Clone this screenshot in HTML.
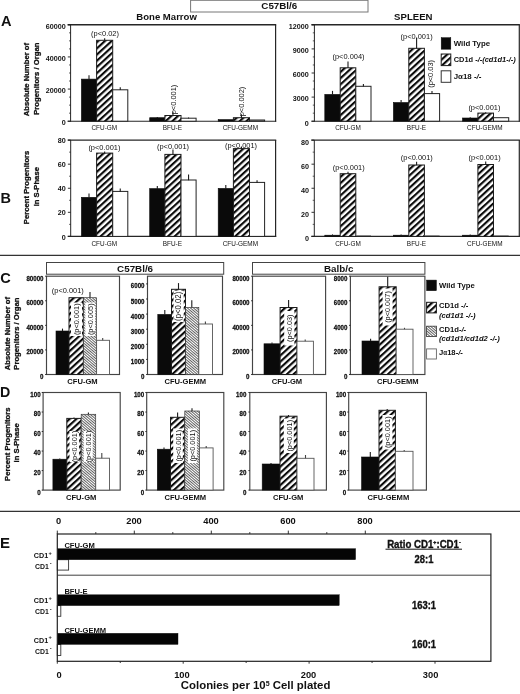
<!DOCTYPE html>
<html lang="en"><head><meta charset="utf-8"><title>Figure</title>
<style>html,body{margin:0;padding:0;background:#fff}svg{display:block}text{font-family:"Liberation Sans",Arial,Helvetica,sans-serif;fill:#111}</style></head><body>
<svg width="520" height="694" viewBox="0 0 520 694">
<defs>
<pattern id="hatch" patternUnits="userSpaceOnUse" width="10" height="4.55" patternTransform="rotate(-42.5)"><rect x="0" y="0" width="10" height="4.55" fill="#fff"/><rect x="0" y="0" width="10" height="2.15" fill="#0a0a0a"/></pattern>
<pattern id="fine" patternUnits="userSpaceOnUse" width="10" height="2" patternTransform="rotate(40.5)"><rect x="0" y="0" width="10" height="2" fill="#fff"/><rect x="0" y="0" width="10" height="0.72" fill="#262626"/></pattern>
</defs>
<rect x="0" y="0" width="520" height="694" fill="#fff"/>
<g style="filter:blur(0.45px)">
<rect x="190.6" y="0.3" width="177.4" height="11.7" fill="#fff" stroke="#777" stroke-width="1"/>
<text x="279.3" y="9.4" font-size="9.8" font-weight="bold" text-anchor="middle">C57Bl/6</text>
<text x="166.6" y="19.9" font-size="9.55" font-weight="bold" text-anchor="middle">Bone Marrow</text>
<text x="413.3" y="19.7" font-size="9.6" font-weight="bold" text-anchor="middle">SPLEEN</text>
<text x="1.1" y="25.7" font-size="14.6" font-weight="bold" text-anchor="start">A</text>
<text x="0.6" y="202.6" font-size="14.5" font-weight="bold" text-anchor="start">B</text>
<text x="0.2" y="282.7" font-size="14.6" font-weight="bold" text-anchor="start">C</text>
<text x="0.1" y="397" font-size="14.2" font-weight="bold" text-anchor="start">D</text>
<text x="0.1" y="547.9" font-size="15" font-weight="bold" text-anchor="start">E</text>
<text font-size="7.7" font-weight="bold" text-anchor="middle" transform="translate(29.4 79.6) rotate(-90)" stroke="#111" stroke-width="0.3">Absolute Number of</text>
<text font-size="7.7" font-weight="bold" text-anchor="middle" transform="translate(39.3 78.7) rotate(-90)" stroke="#111" stroke-width="0.3">Progenitors / Organ</text>
<text font-size="7.7" font-weight="bold" text-anchor="middle" transform="translate(29.3 187.4) rotate(-90)" stroke="#111" stroke-width="0.3">Percent Progenitors</text>
<text font-size="7.7" font-weight="bold" text-anchor="middle" transform="translate(38.9 186.7) rotate(-90)" stroke="#111" stroke-width="0.3">in S-Phase</text>
<text font-size="7.7" font-weight="bold" text-anchor="middle" transform="translate(9.5 333.6) rotate(-90)" stroke="#111" stroke-width="0.3">Absolute Number of</text>
<text font-size="7.7" font-weight="bold" text-anchor="middle" transform="translate(18.6 333.6) rotate(-90)" stroke="#111" stroke-width="0.3">Progenitors / Organ</text>
<text font-size="7.7" font-weight="bold" text-anchor="middle" transform="translate(9.5 444.2) rotate(-90)" stroke="#111" stroke-width="0.3">Percent Progenitors</text>
<text font-size="7.7" font-weight="bold" text-anchor="middle" transform="translate(18.6 442.8) rotate(-90)" stroke="#111" stroke-width="0.3">in S-Phase</text>
<text font-size="8.0" font-weight="normal" text-anchor="middle" transform="translate(176.2 99.5) rotate(-90) scale(0.93 1)">p&lt;0.001)</text>
<text font-size="8.0" font-weight="normal" text-anchor="middle" transform="translate(244 101.5) rotate(-90) scale(0.93 1)">p&lt;0.002)</text>
<line x1="67.6" y1="24.8" x2="276.2" y2="24.8" stroke="#262626" stroke-width="1.4"/>
<line x1="70.6" y1="24.8" x2="70.6" y2="121.7" stroke="#262626" stroke-width="1.0"/>
<line x1="275.6" y1="24.8" x2="275.6" y2="121.7" stroke="#262626" stroke-width="1.2"/>
<line x1="67.6" y1="121.2" x2="276.2" y2="121.2" stroke="#262626" stroke-width="1.1"/>
<line x1="67.8" y1="24.8" x2="70.6" y2="24.8" stroke="#1c1c1c" stroke-width="0.9"/>
<text x="65.8" y="28.8" font-size="7.2" font-weight="bold" text-anchor="end">60000</text>
<line x1="69" y1="32.83" x2="70.6" y2="32.83" stroke="#1c1c1c" stroke-width="0.7"/>
<line x1="69" y1="40.87" x2="70.6" y2="40.87" stroke="#1c1c1c" stroke-width="0.7"/>
<line x1="69" y1="48.9" x2="70.6" y2="48.9" stroke="#1c1c1c" stroke-width="0.7"/>
<line x1="67.8" y1="56.93" x2="70.6" y2="56.93" stroke="#1c1c1c" stroke-width="0.9"/>
<text x="65.8" y="60.93" font-size="7.2" font-weight="bold" text-anchor="end">40000</text>
<line x1="69" y1="64.97" x2="70.6" y2="64.97" stroke="#1c1c1c" stroke-width="0.7"/>
<line x1="69" y1="73" x2="70.6" y2="73" stroke="#1c1c1c" stroke-width="0.7"/>
<line x1="69" y1="81.03" x2="70.6" y2="81.03" stroke="#1c1c1c" stroke-width="0.7"/>
<line x1="67.8" y1="89.07" x2="70.6" y2="89.07" stroke="#1c1c1c" stroke-width="0.9"/>
<text x="65.8" y="93.07" font-size="7.2" font-weight="bold" text-anchor="end">20000</text>
<line x1="69" y1="97.1" x2="70.6" y2="97.1" stroke="#1c1c1c" stroke-width="0.7"/>
<line x1="69" y1="105.13" x2="70.6" y2="105.13" stroke="#1c1c1c" stroke-width="0.7"/>
<line x1="69" y1="113.17" x2="70.6" y2="113.17" stroke="#1c1c1c" stroke-width="0.7"/>
<line x1="67.8" y1="121.2" x2="70.6" y2="121.2" stroke="#1c1c1c" stroke-width="0.9"/>
<text x="65.8" y="125.2" font-size="7.2" font-weight="bold" text-anchor="end">0</text>
<rect x="81.4" y="79.1" width="15.2" height="42.1" fill="#0a0a0a" stroke="#0a0a0a" stroke-width="0.6"/>
<rect x="96.6" y="40.3" width="16.1" height="80.9" fill="url(#hatch)" stroke="#1c1c1c" stroke-width="1"/>
<rect x="112.7" y="89.8" width="15.1" height="31.4" fill="#fff" stroke="#222" stroke-width="1"/>
<line x1="89" y1="75.2" x2="89" y2="79.4" stroke="#1c1c1c" stroke-width="1.1"/>
<line x1="104.65" y1="38.2" x2="104.65" y2="40.6" stroke="#1c1c1c" stroke-width="1.1"/>
<line x1="120.25" y1="87.2" x2="120.25" y2="90.1" stroke="#1c1c1c" stroke-width="1.1"/>
<rect x="149.7" y="117.7" width="15.2" height="3.5" fill="#0a0a0a" stroke="#0a0a0a" stroke-width="0.6"/>
<rect x="164.9" y="115.5" width="16.1" height="5.7" fill="url(#hatch)" stroke="#1c1c1c" stroke-width="1"/>
<rect x="181" y="118.2" width="15.1" height="3" fill="#fff" stroke="#222" stroke-width="1"/>
<line x1="157.3" y1="117" x2="157.3" y2="118" stroke="#1c1c1c" stroke-width="1.1"/>
<line x1="172.95" y1="111.8" x2="172.95" y2="115.8" stroke="#1c1c1c" stroke-width="1.1"/>
<line x1="188.55" y1="117.4" x2="188.55" y2="118.5" stroke="#1c1c1c" stroke-width="1.1"/>
<rect x="218.2" y="119.6" width="15.2" height="1.6" fill="#0a0a0a" stroke="#0a0a0a" stroke-width="0.6"/>
<rect x="233.4" y="117.7" width="16.1" height="3.5" fill="url(#hatch)" stroke="#1c1c1c" stroke-width="1"/>
<rect x="249.5" y="120" width="15.1" height="1.2" fill="#fff" stroke="#222" stroke-width="1"/>
<line x1="241.45" y1="114.3" x2="241.45" y2="118" stroke="#1c1c1c" stroke-width="1.1"/>
<text font-size="8.0" font-weight="normal" text-anchor="middle" transform="translate(105 36) scale(0.93 1)">(p&lt;0.02)</text>
<text font-size="7.0" font-weight="normal" text-anchor="middle" transform="translate(104.3 130.3) scale(0.92 1)">CFU-GM</text>
<text font-size="7.0" font-weight="normal" text-anchor="middle" transform="translate(172.4 130.3) scale(0.92 1)">BFU-E</text>
<text font-size="7.0" font-weight="normal" text-anchor="middle" transform="translate(240.4 130.3) scale(0.92 1)">CFU-GEMM</text>
<line x1="311.4" y1="24.8" x2="519.9" y2="24.8" stroke="#262626" stroke-width="1.4"/>
<line x1="314.4" y1="24.8" x2="314.4" y2="121.7" stroke="#262626" stroke-width="1.0"/>
<line x1="519.3" y1="24.8" x2="519.3" y2="121.7" stroke="#262626" stroke-width="1.2"/>
<line x1="311.4" y1="121.2" x2="519.9" y2="121.2" stroke="#262626" stroke-width="1.1"/>
<line x1="311.6" y1="24.8" x2="314.4" y2="24.8" stroke="#1c1c1c" stroke-width="0.9"/>
<text x="308.8" y="29.1" font-size="7.2" font-weight="bold" text-anchor="end">12000</text>
<line x1="312.8" y1="32.83" x2="314.4" y2="32.83" stroke="#1c1c1c" stroke-width="0.7"/>
<line x1="312.8" y1="40.87" x2="314.4" y2="40.87" stroke="#1c1c1c" stroke-width="0.7"/>
<line x1="311.6" y1="48.9" x2="314.4" y2="48.9" stroke="#1c1c1c" stroke-width="0.9"/>
<text x="308.8" y="53.2" font-size="7.2" font-weight="bold" text-anchor="end">9000</text>
<line x1="312.8" y1="56.93" x2="314.4" y2="56.93" stroke="#1c1c1c" stroke-width="0.7"/>
<line x1="312.8" y1="64.97" x2="314.4" y2="64.97" stroke="#1c1c1c" stroke-width="0.7"/>
<line x1="311.6" y1="73" x2="314.4" y2="73" stroke="#1c1c1c" stroke-width="0.9"/>
<text x="308.8" y="77.3" font-size="7.2" font-weight="bold" text-anchor="end">6000</text>
<line x1="312.8" y1="81.03" x2="314.4" y2="81.03" stroke="#1c1c1c" stroke-width="0.7"/>
<line x1="312.8" y1="89.07" x2="314.4" y2="89.07" stroke="#1c1c1c" stroke-width="0.7"/>
<line x1="311.6" y1="97.1" x2="314.4" y2="97.1" stroke="#1c1c1c" stroke-width="0.9"/>
<text x="308.8" y="101.4" font-size="7.2" font-weight="bold" text-anchor="end">3000</text>
<line x1="312.8" y1="105.13" x2="314.4" y2="105.13" stroke="#1c1c1c" stroke-width="0.7"/>
<line x1="312.8" y1="113.17" x2="314.4" y2="113.17" stroke="#1c1c1c" stroke-width="0.7"/>
<line x1="311.6" y1="121.2" x2="314.4" y2="121.2" stroke="#1c1c1c" stroke-width="0.9"/>
<text x="308.8" y="125.5" font-size="7.2" font-weight="bold" text-anchor="end">0</text>
<rect x="324.8" y="94.4" width="15.4" height="26.8" fill="#0a0a0a" stroke="#0a0a0a" stroke-width="0.6"/>
<rect x="340.2" y="67.8" width="15.6" height="53.4" fill="url(#hatch)" stroke="#1c1c1c" stroke-width="1"/>
<rect x="355.8" y="86.3" width="15.2" height="34.9" fill="#fff" stroke="#222" stroke-width="1"/>
<line x1="332.5" y1="90.9" x2="332.5" y2="94.7" stroke="#1c1c1c" stroke-width="1.1"/>
<line x1="348" y1="61.4" x2="348" y2="68.1" stroke="#1c1c1c" stroke-width="1.1"/>
<line x1="363.4" y1="84" x2="363.4" y2="86.6" stroke="#1c1c1c" stroke-width="1.1"/>
<rect x="393.4" y="102.5" width="15.4" height="18.7" fill="#0a0a0a" stroke="#0a0a0a" stroke-width="0.6"/>
<rect x="408.8" y="48.3" width="15.6" height="72.9" fill="url(#hatch)" stroke="#1c1c1c" stroke-width="1"/>
<rect x="424.4" y="93.6" width="15.2" height="27.6" fill="#fff" stroke="#222" stroke-width="1"/>
<line x1="401.1" y1="100" x2="401.1" y2="102.8" stroke="#1c1c1c" stroke-width="1.1"/>
<line x1="416.6" y1="37.6" x2="416.6" y2="48.6" stroke="#1c1c1c" stroke-width="1.1"/>
<line x1="432" y1="91" x2="432" y2="93.9" stroke="#1c1c1c" stroke-width="1.1"/>
<rect x="462.5" y="118" width="15.4" height="3.2" fill="#0a0a0a" stroke="#0a0a0a" stroke-width="0.6"/>
<rect x="477.9" y="113.1" width="15.6" height="8.1" fill="url(#hatch)" stroke="#1c1c1c" stroke-width="1"/>
<rect x="493.5" y="117.7" width="15.2" height="3.5" fill="#fff" stroke="#222" stroke-width="1"/>
<line x1="470.2" y1="117.2" x2="470.2" y2="118.3" stroke="#1c1c1c" stroke-width="1.1"/>
<line x1="485.7" y1="112.2" x2="485.7" y2="113.4" stroke="#1c1c1c" stroke-width="1.1"/>
<text font-size="8.0" font-weight="normal" text-anchor="middle" transform="translate(348.5 58.6) scale(0.93 1)">(p&lt;0.004)</text>
<text font-size="8.0" font-weight="normal" text-anchor="middle" transform="translate(416.6 39) scale(0.93 1)">(p&lt;0.001)</text>
<text font-size="8.0" font-weight="normal" text-anchor="middle" transform="translate(432.7 73.9) rotate(-90) scale(0.93 1)">(p&lt;0.03)</text>
<text font-size="8.0" font-weight="normal" text-anchor="middle" transform="translate(484.4 110.4) scale(0.93 1)">(p&lt;0.001)</text>
<text font-size="7.0" font-weight="normal" text-anchor="middle" transform="translate(348 130.3) scale(0.92 1)">CFU-GM</text>
<text font-size="7.0" font-weight="normal" text-anchor="middle" transform="translate(416.5 130.3) scale(0.92 1)">BFU-E</text>
<text font-size="7.0" font-weight="normal" text-anchor="middle" transform="translate(484.8 130.3) scale(0.92 1)">CFU-GEMM</text>
<rect x="441.2" y="37.7" width="9.6" height="11.5" fill="#0a0a0a" stroke="#0a0a0a" stroke-width="0.5"/>
<rect x="441.2" y="54" width="9.6" height="11.6" fill="url(#hatch)" stroke="#1c1c1c" stroke-width="1"/>
<rect x="441.2" y="70.8" width="9.6" height="11.5" fill="#fff" stroke="#333" stroke-width="1"/>
<text x="453.7" y="45.6" font-size="7.85" font-weight="bold" text-anchor="start">Wild Type</text>
<text x="453.7" y="61.9" font-size="7.45" font-weight="bold" text-anchor="start">CD1d <tspan font-style="italic">-/-(cd1d1-/-)</tspan></text>
<text x="453.7" y="78.6" font-size="7.9" font-weight="bold" text-anchor="start">Jα18 <tspan font-style="italic">-/-</tspan></text>
<line x1="67.7" y1="140.1" x2="276.2" y2="140.1" stroke="#262626" stroke-width="1.4"/>
<line x1="70.7" y1="140.1" x2="70.7" y2="236.9" stroke="#262626" stroke-width="1.0"/>
<line x1="275.6" y1="140.1" x2="275.6" y2="236.9" stroke="#262626" stroke-width="1.2"/>
<line x1="67.7" y1="236.4" x2="276.2" y2="236.4" stroke="#262626" stroke-width="1.1"/>
<line x1="67.9" y1="140.1" x2="70.7" y2="140.1" stroke="#1c1c1c" stroke-width="0.9"/>
<text x="65.8" y="143.2" font-size="7.2" font-weight="bold" text-anchor="end">80</text>
<line x1="69.1" y1="152.14" x2="70.7" y2="152.14" stroke="#1c1c1c" stroke-width="0.7"/>
<line x1="67.9" y1="164.18" x2="70.7" y2="164.18" stroke="#1c1c1c" stroke-width="0.9"/>
<text x="65.8" y="167.28" font-size="7.2" font-weight="bold" text-anchor="end">60</text>
<line x1="69.1" y1="176.21" x2="70.7" y2="176.21" stroke="#1c1c1c" stroke-width="0.7"/>
<line x1="67.9" y1="188.25" x2="70.7" y2="188.25" stroke="#1c1c1c" stroke-width="0.9"/>
<text x="65.8" y="191.35" font-size="7.2" font-weight="bold" text-anchor="end">40</text>
<line x1="69.1" y1="200.29" x2="70.7" y2="200.29" stroke="#1c1c1c" stroke-width="0.7"/>
<line x1="67.9" y1="212.32" x2="70.7" y2="212.32" stroke="#1c1c1c" stroke-width="0.9"/>
<text x="65.8" y="215.42" font-size="7.2" font-weight="bold" text-anchor="end">20</text>
<line x1="69.1" y1="224.36" x2="70.7" y2="224.36" stroke="#1c1c1c" stroke-width="0.7"/>
<line x1="67.9" y1="236.4" x2="70.7" y2="236.4" stroke="#1c1c1c" stroke-width="0.9"/>
<text x="65.8" y="239.5" font-size="7.2" font-weight="bold" text-anchor="end">0</text>
<rect x="81.4" y="197.3" width="15.2" height="39.1" fill="#0a0a0a" stroke="#0a0a0a" stroke-width="0.6"/>
<rect x="96.6" y="153.1" width="16.1" height="83.3" fill="url(#hatch)" stroke="#1c1c1c" stroke-width="1"/>
<rect x="112.7" y="191.4" width="15.1" height="45" fill="#fff" stroke="#222" stroke-width="1"/>
<line x1="89" y1="193.6" x2="89" y2="197.6" stroke="#1c1c1c" stroke-width="1.1"/>
<line x1="104.65" y1="151.6" x2="104.65" y2="153.4" stroke="#1c1c1c" stroke-width="1.1"/>
<line x1="120.25" y1="188.4" x2="120.25" y2="191.7" stroke="#1c1c1c" stroke-width="1.1"/>
<rect x="149.7" y="188.6" width="15.2" height="47.8" fill="#0a0a0a" stroke="#0a0a0a" stroke-width="0.6"/>
<rect x="164.9" y="154.4" width="16.1" height="82" fill="url(#hatch)" stroke="#1c1c1c" stroke-width="1"/>
<rect x="181" y="180" width="15.1" height="56.4" fill="#fff" stroke="#222" stroke-width="1"/>
<line x1="157.3" y1="185.9" x2="157.3" y2="188.9" stroke="#1c1c1c" stroke-width="1.1"/>
<line x1="172.95" y1="149.4" x2="172.95" y2="154.7" stroke="#1c1c1c" stroke-width="1.1"/>
<line x1="188.55" y1="174.6" x2="188.55" y2="180.3" stroke="#1c1c1c" stroke-width="1.1"/>
<rect x="218.2" y="188.4" width="15.2" height="48" fill="#0a0a0a" stroke="#0a0a0a" stroke-width="0.6"/>
<rect x="233.4" y="148.6" width="16.1" height="87.8" fill="url(#hatch)" stroke="#1c1c1c" stroke-width="1"/>
<rect x="249.5" y="182.4" width="15.1" height="54" fill="#fff" stroke="#222" stroke-width="1"/>
<line x1="225.8" y1="185" x2="225.8" y2="188.7" stroke="#1c1c1c" stroke-width="1.1"/>
<line x1="241.45" y1="146.6" x2="241.45" y2="148.9" stroke="#1c1c1c" stroke-width="1.1"/>
<line x1="257.05" y1="180.2" x2="257.05" y2="182.7" stroke="#1c1c1c" stroke-width="1.1"/>
<text font-size="8.0" font-weight="normal" text-anchor="middle" transform="translate(104.4 149.5) scale(0.93 1)">(p&lt;0.001)</text>
<text font-size="8.0" font-weight="normal" text-anchor="middle" transform="translate(173 149.1) scale(0.93 1)">(p&lt;0.001)</text>
<text font-size="8.0" font-weight="normal" text-anchor="middle" transform="translate(241 147.9) scale(0.93 1)">(p&lt;0.001)</text>
<text font-size="7.0" font-weight="normal" text-anchor="middle" transform="translate(104.3 246) scale(0.92 1)">CFU-GM</text>
<text font-size="7.0" font-weight="normal" text-anchor="middle" transform="translate(172.4 246) scale(0.92 1)">BFU-E</text>
<text font-size="7.0" font-weight="normal" text-anchor="middle" transform="translate(240.4 246) scale(0.92 1)">CFU-GEMM</text>
<line x1="311.3" y1="140.1" x2="519.9" y2="140.1" stroke="#262626" stroke-width="1.4"/>
<line x1="314.3" y1="140.1" x2="314.3" y2="236.9" stroke="#262626" stroke-width="1.0"/>
<line x1="519.3" y1="140.1" x2="519.3" y2="236.9" stroke="#262626" stroke-width="1.2"/>
<line x1="311.3" y1="236.4" x2="519.9" y2="236.4" stroke="#262626" stroke-width="1.1"/>
<line x1="311.5" y1="140.1" x2="314.3" y2="140.1" stroke="#1c1c1c" stroke-width="0.9"/>
<text x="309.1" y="144.7" font-size="7.2" font-weight="bold" text-anchor="end">80</text>
<line x1="312.7" y1="152.14" x2="314.3" y2="152.14" stroke="#1c1c1c" stroke-width="0.7"/>
<line x1="311.5" y1="164.18" x2="314.3" y2="164.18" stroke="#1c1c1c" stroke-width="0.9"/>
<text x="309.1" y="168.78" font-size="7.2" font-weight="bold" text-anchor="end">60</text>
<line x1="312.7" y1="176.21" x2="314.3" y2="176.21" stroke="#1c1c1c" stroke-width="0.7"/>
<line x1="311.5" y1="188.25" x2="314.3" y2="188.25" stroke="#1c1c1c" stroke-width="0.9"/>
<text x="309.1" y="192.85" font-size="7.2" font-weight="bold" text-anchor="end">40</text>
<line x1="312.7" y1="200.29" x2="314.3" y2="200.29" stroke="#1c1c1c" stroke-width="0.7"/>
<line x1="311.5" y1="212.32" x2="314.3" y2="212.32" stroke="#1c1c1c" stroke-width="0.9"/>
<text x="309.1" y="216.92" font-size="7.2" font-weight="bold" text-anchor="end">20</text>
<line x1="312.7" y1="224.36" x2="314.3" y2="224.36" stroke="#1c1c1c" stroke-width="0.7"/>
<line x1="311.5" y1="236.4" x2="314.3" y2="236.4" stroke="#1c1c1c" stroke-width="0.9"/>
<text x="309.1" y="241" font-size="7.2" font-weight="bold" text-anchor="end">0</text>
<rect x="324.8" y="235.2" width="15.4" height="1.2" fill="#0a0a0a" stroke="#0a0a0a" stroke-width="0.6"/>
<rect x="340.2" y="173.7" width="15.6" height="62.7" fill="url(#hatch)" stroke="#1c1c1c" stroke-width="1"/>
<line x1="355.8" y1="235.5" x2="371" y2="235.5" stroke="#777" stroke-width="0.8"/>
<line x1="348" y1="171.8" x2="348" y2="174" stroke="#1c1c1c" stroke-width="1.1"/>
<line x1="332.5" y1="234.4" x2="332.5" y2="235.4" stroke="#1c1c1c" stroke-width="1.1"/>
<rect x="393.4" y="235.2" width="15.4" height="1.2" fill="#0a0a0a" stroke="#0a0a0a" stroke-width="0.6"/>
<rect x="408.8" y="165" width="15.6" height="71.4" fill="url(#hatch)" stroke="#1c1c1c" stroke-width="1"/>
<line x1="424.4" y1="235.5" x2="439.6" y2="235.5" stroke="#777" stroke-width="0.8"/>
<line x1="416.6" y1="161.7" x2="416.6" y2="165.3" stroke="#1c1c1c" stroke-width="1.1"/>
<line x1="401.1" y1="234.4" x2="401.1" y2="235.4" stroke="#1c1c1c" stroke-width="1.1"/>
<rect x="462.5" y="235.2" width="15.4" height="1.2" fill="#0a0a0a" stroke="#0a0a0a" stroke-width="0.6"/>
<rect x="477.9" y="164.5" width="15.6" height="71.9" fill="url(#hatch)" stroke="#1c1c1c" stroke-width="1"/>
<line x1="493.5" y1="235.5" x2="508.7" y2="235.5" stroke="#777" stroke-width="0.8"/>
<line x1="485.7" y1="161.4" x2="485.7" y2="164.8" stroke="#1c1c1c" stroke-width="1.1"/>
<line x1="470.2" y1="234.4" x2="470.2" y2="235.4" stroke="#1c1c1c" stroke-width="1.1"/>
<text font-size="8.0" font-weight="normal" text-anchor="middle" transform="translate(348.7 169.8) scale(0.93 1)">(p&lt;0.001)</text>
<text font-size="8.0" font-weight="normal" text-anchor="middle" transform="translate(416.8 159.5) scale(0.93 1)">(p&lt;0.001)</text>
<text font-size="8.0" font-weight="normal" text-anchor="middle" transform="translate(484.6 159.5) scale(0.93 1)">(p&lt;0.001)</text>
<text font-size="7.0" font-weight="normal" text-anchor="middle" transform="translate(348 246) scale(0.92 1)">CFU-GM</text>
<text font-size="7.0" font-weight="normal" text-anchor="middle" transform="translate(416.5 246) scale(0.92 1)">BFU-E</text>
<text font-size="7.0" font-weight="normal" text-anchor="middle" transform="translate(484.8 246) scale(0.92 1)">CFU-GEMM</text>
<line x1="0" y1="255.3" x2="520" y2="255.3" stroke="#333" stroke-width="1.2"/>
<line x1="0" y1="511.4" x2="520" y2="511.4" stroke="#333" stroke-width="1.2"/>
<rect x="46.5" y="262.5" width="177.2" height="11.7" fill="#fff" stroke="#444" stroke-width="1"/>
<text x="135.1" y="271.8" font-size="9.8" font-weight="bold" text-anchor="middle">C57Bl/6</text>
<rect x="252.5" y="262.5" width="172.4" height="11.7" fill="#fff" stroke="#444" stroke-width="1"/>
<text x="338.7" y="271.8" font-size="9.8" font-weight="bold" text-anchor="middle">Balb/c</text>
<text font-size="8.0" font-weight="normal" text-anchor="middle" transform="translate(67.8 293.1) scale(0.93 1)">(p&lt;0.001)</text>
<rect x="46.5" y="276.2" width="73" height="98.3" fill="none" stroke="#444" stroke-width="1.15"/>
<line x1="45.1" y1="276.2" x2="46.5" y2="276.2" stroke="#1c1c1c" stroke-width="0.9"/>
<text font-size="7.5" font-weight="bold" text-anchor="end" transform="translate(43.5 280.7) scale(0.82 1)" stroke="#111" stroke-width="0.3">80000</text>
<line x1="45.1" y1="300.77" x2="46.5" y2="300.77" stroke="#1c1c1c" stroke-width="0.9"/>
<text font-size="7.5" font-weight="bold" text-anchor="end" transform="translate(43.5 305.27) scale(0.82 1)" stroke="#111" stroke-width="0.3">60000</text>
<line x1="45.1" y1="325.35" x2="46.5" y2="325.35" stroke="#1c1c1c" stroke-width="0.9"/>
<text font-size="7.5" font-weight="bold" text-anchor="end" transform="translate(43.5 329.85) scale(0.82 1)" stroke="#111" stroke-width="0.3">40000</text>
<line x1="45.1" y1="349.93" x2="46.5" y2="349.93" stroke="#1c1c1c" stroke-width="0.9"/>
<text font-size="7.5" font-weight="bold" text-anchor="end" transform="translate(43.5 354.43) scale(0.82 1)" stroke="#111" stroke-width="0.3">20000</text>
<line x1="45.1" y1="374.5" x2="46.5" y2="374.5" stroke="#1c1c1c" stroke-width="0.9"/>
<text font-size="7.5" font-weight="bold" text-anchor="end" transform="translate(43.5 379) scale(0.82 1)" stroke="#111" stroke-width="0.3">0</text>
<rect x="56" y="331" width="13" height="43.5" fill="#0a0a0a" stroke="#0a0a0a" stroke-width="0.6"/>
<rect x="69" y="297.7" width="14.4" height="76.8" fill="url(#hatch)" stroke="#1c1c1c" stroke-width="1"/>
<rect x="83.4" y="297.7" width="13.2" height="76.8" fill="url(#fine)" stroke="#3a3a3a" stroke-width="0.7"/>
<rect x="96.6" y="340.3" width="12.9" height="34.2" fill="#fff" stroke="#555" stroke-width="0.9"/>
<line x1="62.5" y1="328.6" x2="62.5" y2="331" stroke="#1c1c1c" stroke-width="1.1"/>
<line x1="90" y1="291.9" x2="90" y2="297.7" stroke="#1c1c1c" stroke-width="1.1"/>
<line x1="102.7" y1="338" x2="102.7" y2="340.3" stroke="#444" stroke-width="1.1"/>
<rect x="71" y="302.5" width="11" height="33.5" fill="#fff" stroke="none" stroke-width="0"/>
<text font-size="8.0" font-weight="normal" text-anchor="middle" transform="translate(79.2 319.25) rotate(-90) scale(0.92 1)">(p&lt;0.001)</text>
<rect x="85.3" y="302.5" width="9.8" height="33.5" fill="#fff" stroke="none" stroke-width="0"/>
<text font-size="8.0" font-weight="normal" text-anchor="middle" transform="translate(92.9 319.25) rotate(-90) scale(0.92 1)">(p&lt;0.005)</text>
<text x="82.5" y="383.8" font-size="7.6" font-weight="bold" text-anchor="middle">CFU-GM</text>
<rect x="147.5" y="276.2" width="75" height="98.3" fill="none" stroke="#444" stroke-width="1.15"/>
<line x1="146.1" y1="283.9" x2="147.5" y2="283.9" stroke="#1c1c1c" stroke-width="0.9"/>
<text font-size="7.5" font-weight="bold" text-anchor="end" transform="translate(144.5 288.4) scale(0.82 1)" stroke="#111" stroke-width="0.3">6000</text>
<line x1="146.1" y1="299" x2="147.5" y2="299" stroke="#1c1c1c" stroke-width="0.9"/>
<text font-size="7.5" font-weight="bold" text-anchor="end" transform="translate(144.5 303.5) scale(0.82 1)" stroke="#111" stroke-width="0.3">5000</text>
<line x1="146.1" y1="314.1" x2="147.5" y2="314.1" stroke="#1c1c1c" stroke-width="0.9"/>
<text font-size="7.5" font-weight="bold" text-anchor="end" transform="translate(144.5 318.6) scale(0.82 1)" stroke="#111" stroke-width="0.3">4000</text>
<line x1="146.1" y1="329.2" x2="147.5" y2="329.2" stroke="#1c1c1c" stroke-width="0.9"/>
<text font-size="7.5" font-weight="bold" text-anchor="end" transform="translate(144.5 333.7) scale(0.82 1)" stroke="#111" stroke-width="0.3">3000</text>
<line x1="146.1" y1="344.3" x2="147.5" y2="344.3" stroke="#1c1c1c" stroke-width="0.9"/>
<text font-size="7.5" font-weight="bold" text-anchor="end" transform="translate(144.5 348.8) scale(0.82 1)" stroke="#111" stroke-width="0.3">2000</text>
<line x1="146.1" y1="359.4" x2="147.5" y2="359.4" stroke="#1c1c1c" stroke-width="0.9"/>
<text font-size="7.5" font-weight="bold" text-anchor="end" transform="translate(144.5 363.9) scale(0.82 1)" stroke="#111" stroke-width="0.3">1000</text>
<line x1="146.1" y1="374.5" x2="147.5" y2="374.5" stroke="#1c1c1c" stroke-width="0.9"/>
<text font-size="7.5" font-weight="bold" text-anchor="end" transform="translate(144.5 379) scale(0.82 1)" stroke="#111" stroke-width="0.3">0</text>
<rect x="157.8" y="314.4" width="13.7" height="60.1" fill="#0a0a0a" stroke="#0a0a0a" stroke-width="0.6"/>
<rect x="171.5" y="289.3" width="14" height="85.2" fill="url(#hatch)" stroke="#1c1c1c" stroke-width="1"/>
<rect x="185.5" y="307.5" width="13.3" height="67" fill="url(#fine)" stroke="#3a3a3a" stroke-width="0.7"/>
<rect x="198.8" y="324" width="13.7" height="50.5" fill="#fff" stroke="#555" stroke-width="0.9"/>
<line x1="164.8" y1="310" x2="164.8" y2="314.4" stroke="#1c1c1c" stroke-width="1.1"/>
<line x1="178.5" y1="283.1" x2="178.5" y2="289.3" stroke="#1c1c1c" stroke-width="1.1"/>
<line x1="191.8" y1="300.3" x2="191.8" y2="307.5" stroke="#1c1c1c" stroke-width="1.1"/>
<line x1="205.4" y1="321.5" x2="205.4" y2="324" stroke="#444" stroke-width="1.1"/>
<rect x="173.5" y="290.6" width="10.2" height="31.4" fill="#fff" stroke="none" stroke-width="0"/>
<text font-size="8.2" font-weight="normal" text-anchor="middle" transform="translate(181.3 306.3) rotate(-90) scale(0.95 1)">(p&lt;0.02)</text>
<text x="185.3" y="383.8" font-size="7.6" font-weight="bold" text-anchor="middle">CFU-GEMM</text>
<rect x="252.5" y="276.2" width="73.1" height="98.3" fill="none" stroke="#444" stroke-width="1.15"/>
<line x1="251.1" y1="276.2" x2="252.5" y2="276.2" stroke="#1c1c1c" stroke-width="0.9"/>
<text font-size="7.5" font-weight="bold" text-anchor="end" transform="translate(249.5 280.7) scale(0.82 1)" stroke="#111" stroke-width="0.3">80000</text>
<line x1="251.1" y1="300.77" x2="252.5" y2="300.77" stroke="#1c1c1c" stroke-width="0.9"/>
<text font-size="7.5" font-weight="bold" text-anchor="end" transform="translate(249.5 305.27) scale(0.82 1)" stroke="#111" stroke-width="0.3">60000</text>
<line x1="251.1" y1="325.35" x2="252.5" y2="325.35" stroke="#1c1c1c" stroke-width="0.9"/>
<text font-size="7.5" font-weight="bold" text-anchor="end" transform="translate(249.5 329.85) scale(0.82 1)" stroke="#111" stroke-width="0.3">40000</text>
<line x1="251.1" y1="349.93" x2="252.5" y2="349.93" stroke="#1c1c1c" stroke-width="0.9"/>
<text font-size="7.5" font-weight="bold" text-anchor="end" transform="translate(249.5 354.43) scale(0.82 1)" stroke="#111" stroke-width="0.3">20000</text>
<line x1="251.1" y1="374.5" x2="252.5" y2="374.5" stroke="#1c1c1c" stroke-width="0.9"/>
<text font-size="7.5" font-weight="bold" text-anchor="end" transform="translate(249.5 379) scale(0.82 1)" stroke="#111" stroke-width="0.3">0</text>
<rect x="264" y="343.8" width="16.1" height="30.7" fill="#0a0a0a" stroke="#0a0a0a" stroke-width="0.6"/>
<rect x="280.1" y="307.5" width="16.9" height="67" fill="url(#hatch)" stroke="#1c1c1c" stroke-width="1"/>
<rect x="297" y="341.2" width="16.4" height="33.3" fill="#fff" stroke="#555" stroke-width="0.9"/>
<line x1="272" y1="342.6" x2="272" y2="343.8" stroke="#1c1c1c" stroke-width="1.1"/>
<line x1="288.6" y1="300" x2="288.6" y2="307.5" stroke="#1c1c1c" stroke-width="1.1"/>
<line x1="305.2" y1="339.6" x2="305.2" y2="341.2" stroke="#444" stroke-width="1.1"/>
<rect x="284.2" y="311" width="10.2" height="34.5" fill="#fff" stroke="none" stroke-width="0"/>
<text font-size="8.0" font-weight="normal" text-anchor="middle" transform="translate(292 328.25) rotate(-90) scale(0.92 1)">(p&lt;0.03)</text>
<text x="287" y="383.8" font-size="7.6" font-weight="bold" text-anchor="middle">CFU-GM</text>
<rect x="350.4" y="276.2" width="74.5" height="98.3" fill="none" stroke="#444" stroke-width="1.15"/>
<line x1="349" y1="276.2" x2="350.4" y2="276.2" stroke="#1c1c1c" stroke-width="0.9"/>
<text font-size="7.5" font-weight="bold" text-anchor="end" transform="translate(347.4 280.7) scale(0.82 1)" stroke="#111" stroke-width="0.3">8000</text>
<line x1="349" y1="300.77" x2="350.4" y2="300.77" stroke="#1c1c1c" stroke-width="0.9"/>
<text font-size="7.5" font-weight="bold" text-anchor="end" transform="translate(347.4 305.27) scale(0.82 1)" stroke="#111" stroke-width="0.3">6000</text>
<line x1="349" y1="325.35" x2="350.4" y2="325.35" stroke="#1c1c1c" stroke-width="0.9"/>
<text font-size="7.5" font-weight="bold" text-anchor="end" transform="translate(347.4 329.85) scale(0.82 1)" stroke="#111" stroke-width="0.3">4000</text>
<line x1="349" y1="349.93" x2="350.4" y2="349.93" stroke="#1c1c1c" stroke-width="0.9"/>
<text font-size="7.5" font-weight="bold" text-anchor="end" transform="translate(347.4 354.43) scale(0.82 1)" stroke="#111" stroke-width="0.3">2000</text>
<line x1="349" y1="374.5" x2="350.4" y2="374.5" stroke="#1c1c1c" stroke-width="0.9"/>
<text font-size="7.5" font-weight="bold" text-anchor="end" transform="translate(347.4 379) scale(0.82 1)" stroke="#111" stroke-width="0.3">0</text>
<rect x="362" y="341" width="17.1" height="33.5" fill="#0a0a0a" stroke="#0a0a0a" stroke-width="0.6"/>
<rect x="379.1" y="286.8" width="17.1" height="87.7" fill="url(#hatch)" stroke="#1c1c1c" stroke-width="1"/>
<rect x="396.2" y="329.2" width="16.8" height="45.3" fill="#fff" stroke="#555" stroke-width="0.9"/>
<line x1="370.6" y1="338.8" x2="370.6" y2="341" stroke="#1c1c1c" stroke-width="1.1"/>
<line x1="387.7" y1="276.8" x2="387.7" y2="286.8" stroke="#1c1c1c" stroke-width="1.1"/>
<line x1="404.5" y1="327.8" x2="404.5" y2="329.2" stroke="#444" stroke-width="1.1"/>
<rect x="382.6" y="288.5" width="10" height="37" fill="#fff" stroke="none" stroke-width="0"/>
<text font-size="8.0" font-weight="normal" text-anchor="middle" transform="translate(390.3 307) rotate(-90) scale(0.92 1)">(p&lt;0.007)</text>
<text x="397.8" y="383.8" font-size="7.6" font-weight="bold" text-anchor="middle">CFU-GEMM</text>
<rect x="426.6" y="280.1" width="9.8" height="10.6" fill="#0a0a0a" stroke="#0a0a0a" stroke-width="0.5"/>
<rect x="426.6" y="302.3" width="9.8" height="10.6" fill="url(#hatch)" stroke="#1c1c1c" stroke-width="1"/>
<rect x="426.6" y="326.2" width="9.8" height="10.4" fill="url(#fine)" stroke="#333" stroke-width="0.8"/>
<rect x="426.6" y="348.9" width="9.8" height="10.1" fill="#fff" stroke="#666" stroke-width="0.9"/>
<text x="439" y="288" font-size="7.7" font-weight="bold" text-anchor="start">Wild Type</text>
<text x="439" y="308.3" font-size="7.65" font-weight="bold" text-anchor="start">CD1d <tspan font-style="italic">-/-</tspan></text>
<text x="439" y="317.7" font-size="7.65" font-weight="bold" font-style="italic" text-anchor="start">(cd1d1 -/-)</text>
<text x="439" y="331.6" font-size="7.65" font-weight="bold" text-anchor="start">CD1d<tspan font-style="italic">-/-</tspan></text>
<text x="439" y="341.2" font-size="7.65" font-weight="bold" font-style="italic" text-anchor="start">(cd1d1/cd1d2 -/-)</text>
<text x="439" y="355.4" font-size="7.65" font-weight="bold" text-anchor="start">J<tspan font-size="6.3">α</tspan>18<tspan font-style="italic">-/-</tspan></text>
<rect x="43.1" y="392.5" width="77.1" height="97.6" fill="none" stroke="#444" stroke-width="1.15"/>
<line x1="41.7" y1="392.5" x2="43.1" y2="392.5" stroke="#1c1c1c" stroke-width="0.9"/>
<text font-size="7.5" font-weight="bold" text-anchor="end" transform="translate(40.6 396.9) scale(0.82 1)" stroke="#111" stroke-width="0.3">100</text>
<line x1="41.7" y1="412.02" x2="43.1" y2="412.02" stroke="#1c1c1c" stroke-width="0.9"/>
<text font-size="7.5" font-weight="bold" text-anchor="end" transform="translate(40.6 416.42) scale(0.82 1)" stroke="#111" stroke-width="0.3">80</text>
<line x1="41.7" y1="431.54" x2="43.1" y2="431.54" stroke="#1c1c1c" stroke-width="0.9"/>
<text font-size="7.5" font-weight="bold" text-anchor="end" transform="translate(40.6 435.94) scale(0.82 1)" stroke="#111" stroke-width="0.3">60</text>
<line x1="41.7" y1="451.06" x2="43.1" y2="451.06" stroke="#1c1c1c" stroke-width="0.9"/>
<text font-size="7.5" font-weight="bold" text-anchor="end" transform="translate(40.6 455.46) scale(0.82 1)" stroke="#111" stroke-width="0.3">40</text>
<line x1="41.7" y1="470.58" x2="43.1" y2="470.58" stroke="#1c1c1c" stroke-width="0.9"/>
<text font-size="7.5" font-weight="bold" text-anchor="end" transform="translate(40.6 474.98) scale(0.82 1)" stroke="#111" stroke-width="0.3">20</text>
<line x1="41.7" y1="490.1" x2="43.1" y2="490.1" stroke="#1c1c1c" stroke-width="0.9"/>
<text font-size="7.5" font-weight="bold" text-anchor="end" transform="translate(40.6 494.5) scale(0.82 1)" stroke="#111" stroke-width="0.3">0</text>
<rect x="52.9" y="459.2" width="13.9" height="30.9" fill="#0a0a0a" stroke="#0a0a0a" stroke-width="0.6"/>
<rect x="66.8" y="418.4" width="14.4" height="71.7" fill="url(#hatch)" stroke="#1c1c1c" stroke-width="1"/>
<rect x="81.2" y="414.3" width="14.5" height="75.8" fill="url(#fine)" stroke="#3a3a3a" stroke-width="0.7"/>
<rect x="95.7" y="458.2" width="13.8" height="31.9" fill="#fff" stroke="#555" stroke-width="0.9"/>
<line x1="59.8" y1="458.4" x2="59.8" y2="459.2" stroke="#1c1c1c" stroke-width="1.1"/>
<line x1="74" y1="417.4" x2="74" y2="418.4" stroke="#1c1c1c" stroke-width="1.1"/>
<line x1="88.4" y1="412.6" x2="88.4" y2="414.3" stroke="#1c1c1c" stroke-width="1.1"/>
<line x1="101.8" y1="453.1" x2="101.8" y2="458.2" stroke="#444" stroke-width="1.1"/>
<rect x="69.5" y="431" width="9.6" height="31" fill="#fff" stroke="none" stroke-width="0"/>
<text font-size="8.0" font-weight="normal" text-anchor="middle" transform="translate(77 446.5) rotate(-90) scale(0.92 1)">(p&lt;0.001)</text>
<rect x="83.7" y="431" width="9" height="31" fill="#fff" stroke="none" stroke-width="0"/>
<text font-size="8.0" font-weight="normal" text-anchor="middle" transform="translate(90.9 446.5) rotate(-90) scale(0.92 1)">(p&lt;0.001)</text>
<text x="81.2" y="499.6" font-size="7.6" font-weight="bold" text-anchor="middle">CFU-GM</text>
<rect x="146.7" y="392.5" width="77.1" height="97.6" fill="none" stroke="#444" stroke-width="1.15"/>
<line x1="145.3" y1="392.5" x2="146.7" y2="392.5" stroke="#1c1c1c" stroke-width="0.9"/>
<text font-size="7.5" font-weight="bold" text-anchor="end" transform="translate(144.2 396.9) scale(0.82 1)" stroke="#111" stroke-width="0.3">100</text>
<line x1="145.3" y1="412.02" x2="146.7" y2="412.02" stroke="#1c1c1c" stroke-width="0.9"/>
<text font-size="7.5" font-weight="bold" text-anchor="end" transform="translate(144.2 416.42) scale(0.82 1)" stroke="#111" stroke-width="0.3">80</text>
<line x1="145.3" y1="431.54" x2="146.7" y2="431.54" stroke="#1c1c1c" stroke-width="0.9"/>
<text font-size="7.5" font-weight="bold" text-anchor="end" transform="translate(144.2 435.94) scale(0.82 1)" stroke="#111" stroke-width="0.3">60</text>
<line x1="145.3" y1="451.06" x2="146.7" y2="451.06" stroke="#1c1c1c" stroke-width="0.9"/>
<text font-size="7.5" font-weight="bold" text-anchor="end" transform="translate(144.2 455.46) scale(0.82 1)" stroke="#111" stroke-width="0.3">40</text>
<line x1="145.3" y1="470.58" x2="146.7" y2="470.58" stroke="#1c1c1c" stroke-width="0.9"/>
<text font-size="7.5" font-weight="bold" text-anchor="end" transform="translate(144.2 474.98) scale(0.82 1)" stroke="#111" stroke-width="0.3">20</text>
<line x1="145.3" y1="490.1" x2="146.7" y2="490.1" stroke="#1c1c1c" stroke-width="0.9"/>
<text font-size="7.5" font-weight="bold" text-anchor="end" transform="translate(144.2 494.5) scale(0.82 1)" stroke="#111" stroke-width="0.3">0</text>
<rect x="157.3" y="449.2" width="13.2" height="40.9" fill="#0a0a0a" stroke="#0a0a0a" stroke-width="0.6"/>
<rect x="170.5" y="417.3" width="14.3" height="72.8" fill="url(#hatch)" stroke="#1c1c1c" stroke-width="1"/>
<rect x="184.8" y="411" width="14.6" height="79.1" fill="url(#fine)" stroke="#3a3a3a" stroke-width="0.7"/>
<rect x="199.4" y="447.9" width="13.7" height="42.2" fill="#fff" stroke="#555" stroke-width="0.9"/>
<line x1="164" y1="447.6" x2="164" y2="449.2" stroke="#1c1c1c" stroke-width="1.1"/>
<line x1="177.6" y1="412.5" x2="177.6" y2="417.3" stroke="#1c1c1c" stroke-width="1.1"/>
<line x1="192" y1="408.3" x2="192" y2="411" stroke="#1c1c1c" stroke-width="1.1"/>
<line x1="206.2" y1="446" x2="206.2" y2="447.9" stroke="#444" stroke-width="1.1"/>
<rect x="173.2" y="428.5" width="9.6" height="34.5" fill="#fff" stroke="none" stroke-width="0"/>
<text font-size="8.0" font-weight="normal" text-anchor="middle" transform="translate(180.7 445.75) rotate(-90) scale(0.92 1)">(p&lt;0.001)</text>
<rect x="187.9" y="428.5" width="9" height="34.5" fill="#fff" stroke="none" stroke-width="0"/>
<text font-size="8.0" font-weight="normal" text-anchor="middle" transform="translate(195.1 445.75) rotate(-90) scale(0.92 1)">(p&lt;0.001)</text>
<text x="185.3" y="499.6" font-size="7.6" font-weight="bold" text-anchor="middle">CFU-GEMM</text>
<rect x="249.8" y="392.5" width="76.6" height="97.6" fill="none" stroke="#444" stroke-width="1.15"/>
<line x1="248.4" y1="392.5" x2="249.8" y2="392.5" stroke="#1c1c1c" stroke-width="0.9"/>
<text font-size="7.5" font-weight="bold" text-anchor="end" transform="translate(246.3 396.9) scale(0.82 1)" stroke="#111" stroke-width="0.3">100</text>
<line x1="248.4" y1="412.02" x2="249.8" y2="412.02" stroke="#1c1c1c" stroke-width="0.9"/>
<text font-size="7.5" font-weight="bold" text-anchor="end" transform="translate(246.3 416.42) scale(0.82 1)" stroke="#111" stroke-width="0.3">80</text>
<line x1="248.4" y1="431.54" x2="249.8" y2="431.54" stroke="#1c1c1c" stroke-width="0.9"/>
<text font-size="7.5" font-weight="bold" text-anchor="end" transform="translate(246.3 435.94) scale(0.82 1)" stroke="#111" stroke-width="0.3">60</text>
<line x1="248.4" y1="451.06" x2="249.8" y2="451.06" stroke="#1c1c1c" stroke-width="0.9"/>
<text font-size="7.5" font-weight="bold" text-anchor="end" transform="translate(246.3 455.46) scale(0.82 1)" stroke="#111" stroke-width="0.3">40</text>
<line x1="248.4" y1="470.58" x2="249.8" y2="470.58" stroke="#1c1c1c" stroke-width="0.9"/>
<text font-size="7.5" font-weight="bold" text-anchor="end" transform="translate(246.3 474.98) scale(0.82 1)" stroke="#111" stroke-width="0.3">20</text>
<line x1="248.4" y1="490.1" x2="249.8" y2="490.1" stroke="#1c1c1c" stroke-width="0.9"/>
<text font-size="7.5" font-weight="bold" text-anchor="end" transform="translate(246.3 494.5) scale(0.82 1)" stroke="#111" stroke-width="0.3">0</text>
<rect x="262.2" y="464" width="17.8" height="26.1" fill="#0a0a0a" stroke="#0a0a0a" stroke-width="0.6"/>
<rect x="280" y="416.2" width="17" height="73.9" fill="url(#hatch)" stroke="#1c1c1c" stroke-width="1"/>
<rect x="297" y="458.3" width="17" height="31.8" fill="#fff" stroke="#555" stroke-width="0.9"/>
<line x1="271" y1="463" x2="271" y2="464" stroke="#1c1c1c" stroke-width="1.1"/>
<line x1="288.5" y1="415" x2="288.5" y2="416.2" stroke="#1c1c1c" stroke-width="1.1"/>
<line x1="305.5" y1="455" x2="305.5" y2="458.3" stroke="#444" stroke-width="1.1"/>
<rect x="283.8" y="418.5" width="10" height="34.5" fill="#fff" stroke="none" stroke-width="0"/>
<text font-size="8.0" font-weight="normal" text-anchor="middle" transform="translate(291.5 435.75) rotate(-90) scale(0.92 1)">(p&lt;0.001)</text>
<text x="288.2" y="499.6" font-size="7.6" font-weight="bold" text-anchor="middle">CFU-GM</text>
<rect x="348.7" y="392.5" width="77.7" height="97.6" fill="none" stroke="#444" stroke-width="1.15"/>
<line x1="347.3" y1="392.5" x2="348.7" y2="392.5" stroke="#1c1c1c" stroke-width="0.9"/>
<text font-size="7.5" font-weight="bold" text-anchor="end" transform="translate(346.2 396.9) scale(0.82 1)" stroke="#111" stroke-width="0.3">100</text>
<line x1="347.3" y1="412.02" x2="348.7" y2="412.02" stroke="#1c1c1c" stroke-width="0.9"/>
<text font-size="7.5" font-weight="bold" text-anchor="end" transform="translate(346.2 416.42) scale(0.82 1)" stroke="#111" stroke-width="0.3">80</text>
<line x1="347.3" y1="431.54" x2="348.7" y2="431.54" stroke="#1c1c1c" stroke-width="0.9"/>
<text font-size="7.5" font-weight="bold" text-anchor="end" transform="translate(346.2 435.94) scale(0.82 1)" stroke="#111" stroke-width="0.3">60</text>
<line x1="347.3" y1="451.06" x2="348.7" y2="451.06" stroke="#1c1c1c" stroke-width="0.9"/>
<text font-size="7.5" font-weight="bold" text-anchor="end" transform="translate(346.2 455.46) scale(0.82 1)" stroke="#111" stroke-width="0.3">40</text>
<line x1="347.3" y1="470.58" x2="348.7" y2="470.58" stroke="#1c1c1c" stroke-width="0.9"/>
<text font-size="7.5" font-weight="bold" text-anchor="end" transform="translate(346.2 474.98) scale(0.82 1)" stroke="#111" stroke-width="0.3">20</text>
<line x1="347.3" y1="490.1" x2="348.7" y2="490.1" stroke="#1c1c1c" stroke-width="0.9"/>
<text font-size="7.5" font-weight="bold" text-anchor="end" transform="translate(346.2 494.5) scale(0.82 1)" stroke="#111" stroke-width="0.3">0</text>
<rect x="361.6" y="457" width="17.4" height="33.1" fill="#0a0a0a" stroke="#0a0a0a" stroke-width="0.6"/>
<rect x="379" y="410.3" width="16.4" height="79.8" fill="url(#hatch)" stroke="#1c1c1c" stroke-width="1"/>
<rect x="395.4" y="451.3" width="17.6" height="38.8" fill="#fff" stroke="#555" stroke-width="0.9"/>
<line x1="370.3" y1="452" x2="370.3" y2="457" stroke="#1c1c1c" stroke-width="1.1"/>
<line x1="387.2" y1="409" x2="387.2" y2="410.3" stroke="#1c1c1c" stroke-width="1.1"/>
<line x1="404.2" y1="450" x2="404.2" y2="451.3" stroke="#444" stroke-width="1.1"/>
<rect x="382.4" y="415" width="10" height="34.5" fill="#fff" stroke="none" stroke-width="0"/>
<text font-size="8.0" font-weight="normal" text-anchor="middle" transform="translate(390.1 432.25) rotate(-90) scale(0.92 1)">(p&lt;0.001)</text>
<text x="388.4" y="499.6" font-size="7.6" font-weight="bold" text-anchor="middle">CFU-GEMM</text>
<line x1="57.3" y1="530.6" x2="57.3" y2="534" stroke="#1c1c1c" stroke-width="0.9"/>
<text x="58.6" y="523.8" font-size="9.3" font-weight="bold" text-anchor="middle">0</text>
<line x1="95.8" y1="532" x2="95.8" y2="534" stroke="#1c1c1c" stroke-width="0.8"/>
<line x1="134.3" y1="530.6" x2="134.3" y2="534" stroke="#1c1c1c" stroke-width="0.9"/>
<text x="134" y="523.8" font-size="9.3" font-weight="bold" text-anchor="middle">200</text>
<line x1="172.8" y1="532" x2="172.8" y2="534" stroke="#1c1c1c" stroke-width="0.8"/>
<line x1="211.3" y1="530.6" x2="211.3" y2="534" stroke="#1c1c1c" stroke-width="0.9"/>
<text x="211" y="523.8" font-size="9.3" font-weight="bold" text-anchor="middle">400</text>
<line x1="249.8" y1="532" x2="249.8" y2="534" stroke="#1c1c1c" stroke-width="0.8"/>
<line x1="288.3" y1="530.6" x2="288.3" y2="534" stroke="#1c1c1c" stroke-width="0.9"/>
<text x="288" y="523.8" font-size="9.3" font-weight="bold" text-anchor="middle">600</text>
<line x1="326.8" y1="532" x2="326.8" y2="534" stroke="#1c1c1c" stroke-width="0.8"/>
<line x1="365.3" y1="530.6" x2="365.3" y2="534" stroke="#1c1c1c" stroke-width="0.9"/>
<text x="365" y="523.8" font-size="9.3" font-weight="bold" text-anchor="middle">800</text>
<line x1="57.3" y1="661.3" x2="57.3" y2="663.7" stroke="#1c1c1c" stroke-width="0.9"/>
<line x1="120.25" y1="661.3" x2="120.25" y2="663" stroke="#1c1c1c" stroke-width="0.9"/>
<line x1="183.2" y1="661.3" x2="183.2" y2="663.7" stroke="#1c1c1c" stroke-width="0.9"/>
<line x1="246.15" y1="661.3" x2="246.15" y2="663" stroke="#1c1c1c" stroke-width="0.9"/>
<line x1="309.1" y1="661.3" x2="309.1" y2="663.7" stroke="#1c1c1c" stroke-width="0.9"/>
<line x1="372.05" y1="661.3" x2="372.05" y2="663" stroke="#1c1c1c" stroke-width="0.9"/>
<line x1="435" y1="661.3" x2="435" y2="663.7" stroke="#1c1c1c" stroke-width="0.9"/>
<text x="59" y="677.8" font-size="9.3" font-weight="bold" text-anchor="middle">0</text>
<text x="181.9" y="677.8" font-size="9.3" font-weight="bold" text-anchor="middle">100</text>
<text x="308.5" y="677.8" font-size="9.3" font-weight="bold" text-anchor="middle">200</text>
<text x="430.6" y="677.8" font-size="9.3" font-weight="bold" text-anchor="middle">300</text>
<text x="255.6" y="689.2" font-size="11.4" font-weight="bold" text-anchor="middle">Colonies per 10<tspan font-size="7" dy="-3.6">5</tspan><tspan dy="3.6"> Cell plated</tspan></text>
<rect x="57.3" y="559.7" width="11.3" height="10.4" fill="#fff" stroke="#333" stroke-width="0.9"/>
<rect x="57.3" y="548.7" width="298.3" height="11" fill="#050505" stroke="#050505" stroke-width="0.4"/>
<text x="64.4" y="547.9" font-size="7.6" font-weight="bold" text-anchor="start">CFU-GM</text>
<rect x="57.3" y="605.6" width="3.5" height="10.7" fill="#fff" stroke="#333" stroke-width="0.9"/>
<rect x="57.3" y="594.8" width="281.9" height="10.8" fill="#050505" stroke="#050505" stroke-width="0.4"/>
<text x="64.4" y="594" font-size="7.6" font-weight="bold" text-anchor="start">BFU-E</text>
<rect x="57.3" y="644.4" width="3.5" height="11.1" fill="#fff" stroke="#333" stroke-width="0.9"/>
<rect x="57.3" y="633.3" width="120.7" height="11.1" fill="#050505" stroke="#050505" stroke-width="0.4"/>
<text x="64.4" y="632.5" font-size="7.6" font-weight="bold" text-anchor="start">CFU-GEMM</text>
<rect x="57.3" y="534" width="433.6" height="127.3" fill="none" stroke="#222" stroke-width="1.2"/>
<line x1="57.3" y1="575.2" x2="490.9" y2="575.2" stroke="#2a2a2a" stroke-width="0.9"/>
<text x="48.2" y="557.9" font-size="7.2" font-weight="bold" text-anchor="end">CD1</text>
<text x="50.1" y="554.7" font-size="5.6" font-weight="bold" text-anchor="middle">+</text>
<text x="48.2" y="603.4" font-size="7.2" font-weight="bold" text-anchor="end">CD1</text>
<text x="50.1" y="600.2" font-size="5.6" font-weight="bold" text-anchor="middle">+</text>
<text x="48.2" y="642.5" font-size="7.2" font-weight="bold" text-anchor="end">CD1</text>
<text x="50.1" y="639.3" font-size="5.6" font-weight="bold" text-anchor="middle">+</text>
<text x="48.8" y="568.5" font-size="6.9" font-weight="bold" text-anchor="end">CD1</text>
<text x="50.7" y="565.1" font-size="5.6" font-weight="bold" text-anchor="middle">-</text>
<text x="48.8" y="614" font-size="6.9" font-weight="bold" text-anchor="end">CD1</text>
<text x="50.7" y="610.6" font-size="5.6" font-weight="bold" text-anchor="middle">-</text>
<text x="48.8" y="653.5" font-size="6.9" font-weight="bold" text-anchor="end">CD1</text>
<text x="50.7" y="650.1" font-size="5.6" font-weight="bold" text-anchor="middle">-</text>
<text font-size="10.3" font-weight="bold" text-anchor="middle" transform="translate(424 547.7) scale(0.94 1)" stroke="#111" stroke-width="0.35">Ratio CD1<tspan font-size="5.6" dy="-3.8">+</tspan><tspan dy="3.8">:CD1</tspan><tspan font-size="6" dy="-3.6">-</tspan></text>
<line x1="385.5" y1="549.2" x2="462" y2="549.2" stroke="#111" stroke-width="1"/>
<text font-size="10.1" font-weight="bold" text-anchor="middle" transform="translate(424 563.3) scale(0.93 1)" stroke="#111" stroke-width="0.35">28:1</text>
<text font-size="10.1" font-weight="bold" text-anchor="middle" transform="translate(424 609.4) scale(0.93 1)" stroke="#111" stroke-width="0.35">163:1</text>
<text font-size="10.1" font-weight="bold" text-anchor="middle" transform="translate(424 647.8) scale(0.93 1)" stroke="#111" stroke-width="0.35">160:1</text>
</g>
</svg></body></html>
